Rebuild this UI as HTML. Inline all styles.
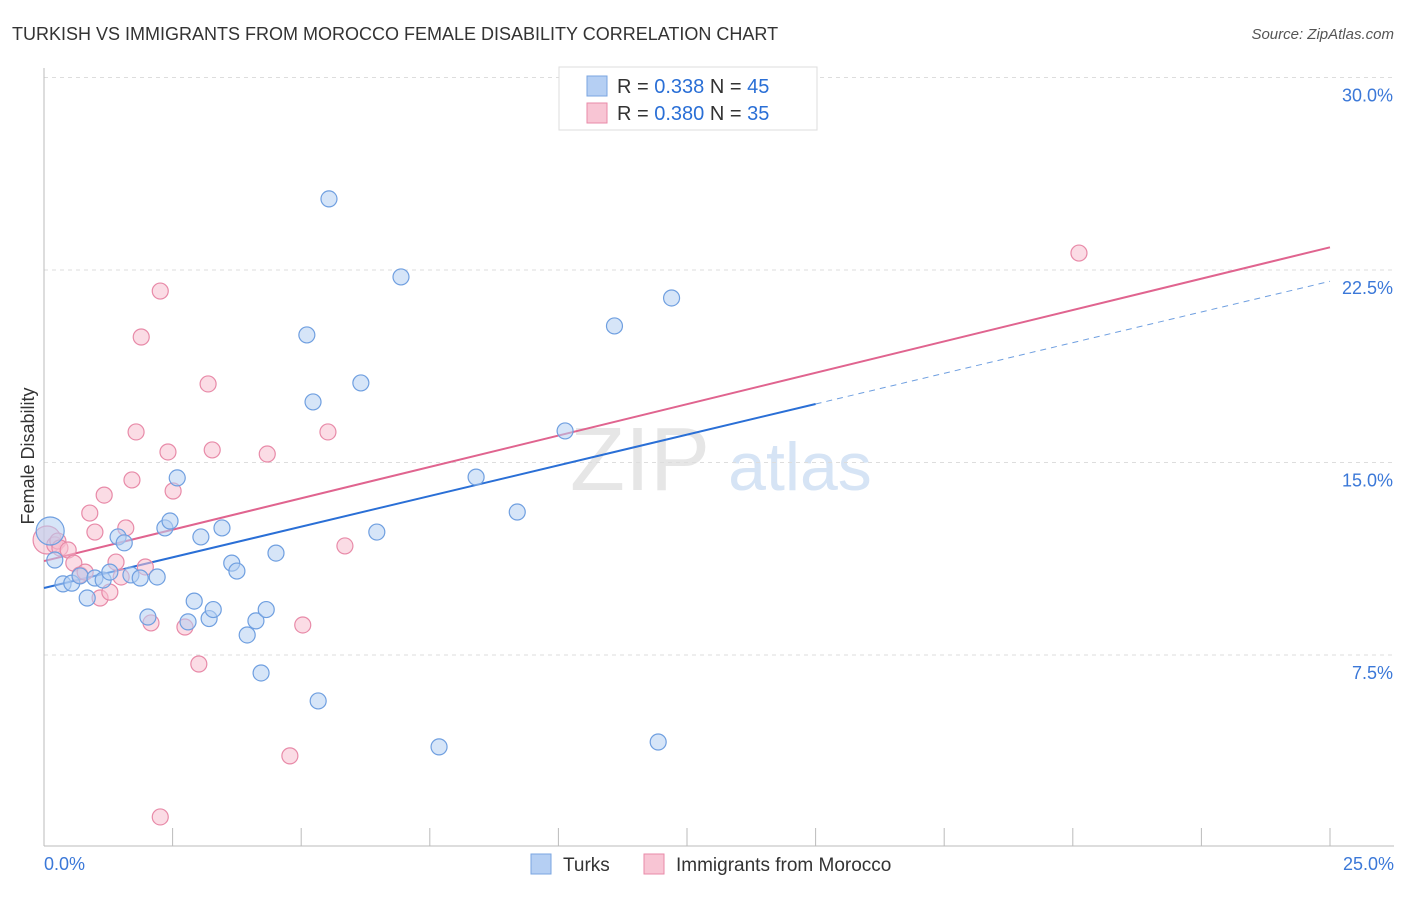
<!DOCTYPE html>
<html><head><meta charset="utf-8"><style>
body{margin:0;background:#fff;font-family:"Liberation Sans",sans-serif;}
svg text{font-family:"Liberation Sans",sans-serif;}
</style></head><body>
<svg id="chart" width="1406" height="892">
<text x="12" y="40" font-size="18" fill="#333">TURKISH VS IMMIGRANTS FROM MOROCCO FEMALE DISABILITY CORRELATION CHART</text>
<text x="1394" y="39" font-size="15" fill="#555" text-anchor="end" font-style="italic">Source: ZipAtlas.com</text>
<text x="34" y="456" font-size="18" fill="#333" transform="rotate(-90 34 456)" text-anchor="middle">Female Disability</text>
<text x="640" y="490" font-size="90" fill="#e6e6e6" font-family="Liberation Serif" text-anchor="middle">ZIP</text>
<text x="800" y="490" font-size="68" fill="#d6e4f5" text-anchor="middle">atlas</text>
<g id="grid"></g><g id="axes"></g><g id="lines"></g><g id="pts"></g>
<g>
<rect x="559" y="67" width="258" height="63" fill="#fff" stroke="#ddd"/>
<rect x="587" y="76" width="20" height="20" fill="#b5cff3" stroke="#7aa5e0"/>
<text x="617" y="93" font-size="20" fill="#333">R = <tspan fill="#2a6fd6">0.338</tspan>   N = <tspan fill="#2a6fd6">45</tspan></text>
<rect x="587" y="103" width="20" height="20" fill="#f8c5d4" stroke="#e98aa8"/>
<text x="617" y="120" font-size="20" fill="#333">R = <tspan fill="#2a6fd6">0.380</tspan>   N = <tspan fill="#2a6fd6">35</tspan></text>
</g>
<g>
<rect x="531" y="854" width="20" height="20" fill="#b5cff3" stroke="#7aa5e0"/>
<text x="563" y="871" font-size="19" fill="#333">Turks</text>
<rect x="644" y="854" width="20" height="20" fill="#f8c5d4" stroke="#e98aa8"/>
<text x="676" y="871" font-size="19" fill="#333">Immigrants from Morocco</text>
</g>
</svg>
<script>
const xTickLabels=["0.0%","25.0%"];
const yTicks=[7.5,15,22.5,30];
const yTickLabels=["7.5%","15.0%","22.5%","30.0%"];
const turksX=[0.12,0.21,0.37,0.54,0.70,0.84,0.99,1.15,1.28,1.44,1.56,1.69,1.87,2.02,2.20,2.35,2.45,2.59,2.80,2.92,3.05,3.21,3.29,3.46,3.65,3.75,3.95,4.12,4.22,4.32,4.51,5.11,5.23,5.33,5.54,6.16,6.47,6.94,7.68,8.40,9.20,10.13,11.09,11.94,12.20];
const turksY=[12.33,11.20,10.27,10.30,10.58,9.72,10.50,10.42,10.73,12.10,11.87,10.62,10.50,8.98,10.54,12.45,12.72,14.40,8.79,9.60,12.10,8.92,9.27,12.45,11.08,10.77,8.28,8.83,6.80,9.27,11.47,19.97,17.36,5.71,25.27,18.10,12.29,22.23,3.92,14.43,13.07,16.23,20.32,4.11,21.41];
const morX=[0.06,0.21,0.27,0.31,0.47,0.58,0.70,0.80,0.89,0.99,1.09,1.17,1.28,1.40,1.50,1.59,1.71,1.79,1.89,1.97,2.08,2.26,2.26,2.41,2.51,2.74,3.01,3.19,3.27,4.34,4.78,5.03,5.52,5.85,20.12];
const morY=[11.98,11.79,11.94,11.67,11.59,11.08,10.62,10.73,13.03,12.29,9.72,13.73,9.95,11.12,10.54,12.45,14.32,16.19,19.89,10.93,8.75,1.19,21.68,15.41,13.89,8.59,7.15,18.06,15.49,15.33,3.57,8.67,16.19,11.75,23.16];
const turksTrend=[10.11,0.478];
const morTrend=[11.16,0.489];
const NS="http://www.w3.org/2000/svg";
const X=v=>44+v/25*1286, Y=v=>847.5-v/7.5*192.5;
function mk(tag,attrs,parent){const e=document.createElementNS(NS,tag);for(const k in attrs)e.setAttribute(k,attrs[k]);document.getElementById(parent).appendChild(e);return e;}
yTicks.forEach((t,i)=>{
 const g=mk('line',{x1:44,x2:1394,y1:Y(t),y2:Y(t),stroke:'#ddd','stroke-dasharray':'4,4'},'grid');
 
 
 const l=mk('text',{x:1393,y:Y(t)+24,'font-size':18,fill:'#3b78d8','text-anchor':'end'},'grid');
 l.textContent=yTickLabels[i];
 
 
});
const ax=mk('line',{x1:44,x2:1394,y1:846,y2:846,stroke:'#bbb'},'axes');


const ay=mk('line',{x1:44,x2:44,y1:68,y2:846,stroke:'#bbb'},'axes');


for(let i=1;i<=10;i++){const t=mk('line',{x1:X(i*2.5),x2:X(i*2.5),y1:828,y2:846,stroke:'#bbb'},'axes');
 
 }
[[0,'start',44],[1,'end',1394]].forEach(([i,a,x])=>{const t=mk('text',{x:x,y:870,'font-size':18,fill:'#3b78d8','text-anchor':a},'axes');t.textContent=xTickLabels[i];
 
 });
function pts(xs,ys,fill,stroke,name){xs.forEach((x,i)=>{const c=mk('circle',{cx:X(x),cy:Y(ys[i]),r:(i===0)?14:8,fill:fill,'fill-opacity':0.55,stroke:stroke,'stroke-width':1.2},'pts');
 
 });}
pts(morX,morY,'#f8c0d0','#e88aa8','morocco-point');
pts(turksX,turksY,'#b5cff3','#6f9fe0','turks-point');
let l1=mk('line',{x1:X(0),y1:Y(turksTrend[0]),x2:X(15),y2:Y(turksTrend[0]+turksTrend[1]*15),stroke:'#2a6fd6','stroke-width':2},'lines');


let l2=mk('line',{x1:X(15),y1:Y(turksTrend[0]+turksTrend[1]*15),x2:X(25),y2:Y(turksTrend[0]+turksTrend[1]*25),stroke:'#6f9fe0','stroke-width':1,'stroke-dasharray':'6,5'},'lines');


let l3=mk('line',{x1:X(0),y1:Y(morTrend[0]),x2:X(25),y2:Y(morTrend[0]+morTrend[1]*25),stroke:'#e0648f','stroke-width':2},'lines');


</script>
</body></html>
